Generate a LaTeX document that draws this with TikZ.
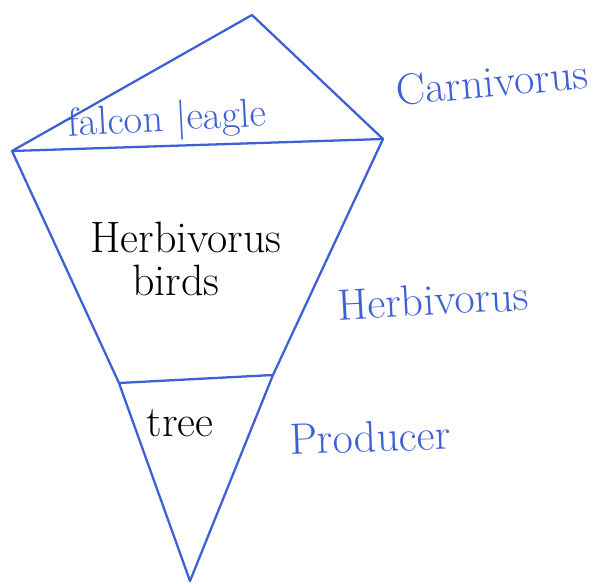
\documentclass[tikz,border=0pt]{standalone}
\usepackage{tikz}
\usetikzlibrary{positioning}
\usepackage{xcolor}
\definecolor{ink}{RGB}{62,96,214}

\begin{document}
\begin{tikzpicture}[x=0.2mm,y=-0.2mm,line width=1.3pt,line join=round,line cap=round,
  inklabel/.style={text=ink,font=\fontsize{25}{28}\selectfont,inner sep=0pt},
  pencil/.style={text=black,font=\fontsize{25}{28}\selectfont,inner sep=0pt}]
\useasboundingbox (0,0) rectangle (604,584);
% corners of the kite
\coordinate (apex) at (252,15);
\coordinate (lft) at (12,151);
\coordinate (rgt) at (383,139);
\coordinate (lowL) at (119,383);
\coordinate (lowR) at (273,375);
\coordinate (tip) at (190,581);
\draw[ink] (lft) -- (apex) -- (rgt) -- (lowR) -- (tip) -- (lowL) -- cycle;
\draw[ink] (lft) -- (rgt);
\draw[ink] (lowL) -- (lowR);
% labels
\node (top) [inklabel,font=\fontsize{23}{26}\selectfont,anchor=base,rotate=3] at (168,131) {falcon \textbar eagle};
\node (herb) [pencil] at (186,237) {Herbivorus};
\node (birds) [pencil] at (176,280) {birds};
\node (tree) [pencil] at (180,423) {tree};
\node (carn) [inklabel,rotate=5] at (492,82) {Carnivorus};
\node (herbr) [inklabel,rotate=3] at (433,300) {Herbivorus};
\node (prod) [inklabel,rotate=2] at (370,437) {Producer};
\end{tikzpicture}
\end{document}
